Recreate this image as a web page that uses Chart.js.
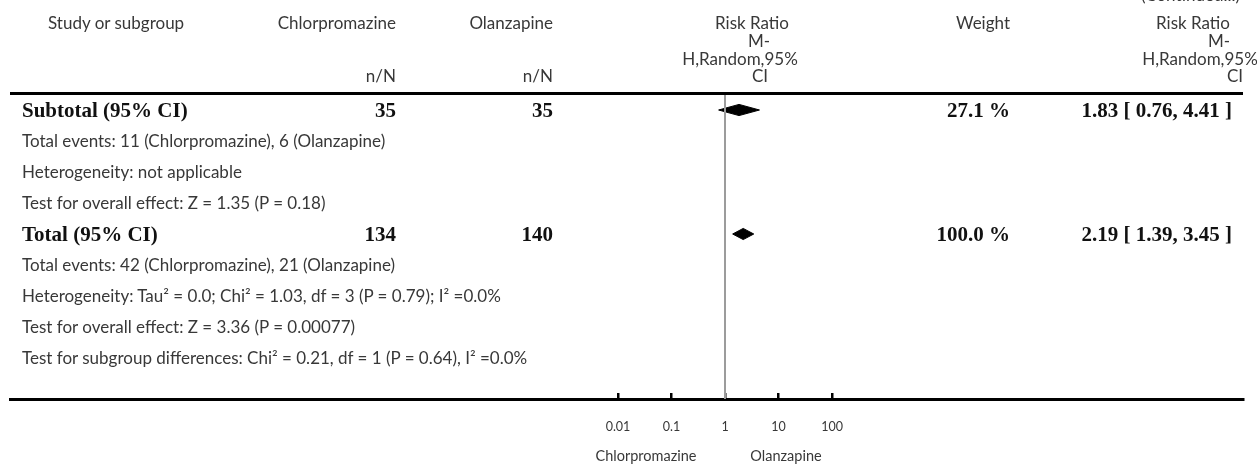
<!DOCTYPE html>
<html>
<head>
<meta charset="utf-8">
<script src="https://cdn.jsdelivr.net/npm/chart.js@4.4.1/dist/chart.umd.min.js"></script>
<style>
html, body { margin: 0; padding: 0; background: #fff; }
#wrap { position: relative; width: 1257px; height: 465px; overflow: hidden; font-family: Lato, "Open Sans", sans-serif; color: #383838; }
#chart { position: absolute; left: 0; top: 0; }
.t { position: absolute; white-space: nowrap; font-size: 17px; line-height: 20px; transform: translateY(-50%); }
.r { transform: translate(-100%, -50%); }
.c { transform: translate(-50%, -50%); }
.b { font-family: "Liberation Serif", "DejaVu Serif", serif; font-weight: bold; font-size: 21px; line-height: 24px; color: #111; }
.s { font-size: 14.5px; }
.hline { position: absolute; left: 10px; width: 1233px; height: 3px; background: #000; }
</style>
</head>
<body>
<div id="wrap">
  <canvas id="chart" width="1257" height="465"></canvas>
</div>
<script>
// summary rows of the forest plot
const rowLabels = ["Subtotal (95% CI)", "Total (95% CI)"];
const chlorTotals = [35, 134];
const olanTotals = [35, 140];
const weights = [27.1, 100.0];
const riskRatios = [1.83, 2.19];
const ciLower = [0.76, 1.39];
const ciUpper = [4.41, 3.45];
const summaryRows = [0, 4];

// text rows under the summaries
const noteRows = [1, 2, 3, 5, 6, 7, 8];
const noteTexts = [
    "Total events: 11 (Chlorpromazine), 6 (Olanzapine)",
    "Heterogeneity: not applicable",
    "Test for overall effect: Z = 1.35 (P = 0.18)",
    "Total events: 42 (Chlorpromazine), 21 (Olanzapine)",
    "Heterogeneity: Tau\u00b2 = 0.0; Chi\u00b2 = 1.03, df = 3 (P = 0.79); I\u00b2 =0.0%",
    "Test for overall effect: Z = 3.36 (P = 0.00077)",
    "Test for subgroup differences: Chi\u00b2 = 0.21, df = 1 (P = 0.64), I\u00b2 =0.0%"
];

// axis
const tickValues = [0.01, 0.1, 1, 10, 100];
const tickLabels = ["0.01", "0.1", "1", "10", "100"];
const sideLabels = ["Chlorpromazine", "Olanzapine"];

// layout
const ROW0 = 110, ROW_H = 31, TOP = 93, AXIS = 399;
const CENTER_X = 725, DECADE = 53.5, LEFT = 10, RIGHT = 1243;
const DIAMOND_H = 0.18;
const COL1 = 396, COL2 = 553, COL_W = 1010, COL_RR = 1232;

const wrap = document.getElementById("wrap");
function put(text, x, y, cls) {
    const d = document.createElement("div");
    d.className = "t " + (cls || "");
    d.style.left = x + "px";
    d.style.top = y + "px";
    d.textContent = text;
    wrap.appendChild(d);
}
const rowY = (r) => ROW0 + ROW_H * r;

// header
put("(Continued...)", 1240, -5, "r");
put("Study or subgroup", 48, 23);
put("Chlorpromazine", COL1, 23, "r");
put("Olanzapine", COL2, 23, "r");
put("n/N", COL1, 76, "r");
put("n/N", COL2, 76, "r");
const headLines = ["Risk Ratio", "M-", "H,Random,95%", "CI"];
const headY = [23, 41, 59, 76];
const midX = [752, 759, 740, 760];
const rightX = [1193, 1219, 1200, 1235];
headLines.forEach((s, i) => {
    put(s, midX[i], headY[i], "c");
    put(s, rightX[i], headY[i], "c");
});
put("Weight", COL_W, 23, "r");

const hl = document.createElement("div");
hl.className = "hline";
hl.style.top = (TOP - 1.5) + "px";
wrap.appendChild(hl);

// body
summaryRows.forEach((r, i) => {
    const y = rowY(r);
    put(rowLabels[i], 22, y, "b");
    put(String(chlorTotals[i]), COL1, y, "b r");
    put(String(olanTotals[i]), COL2, y, "b r");
    put(weights[i].toFixed(1) + " %", COL_W, y, "b r");
    put(riskRatios[i].toFixed(2) + " [ " + ciLower[i].toFixed(2) + ", " + ciUpper[i].toFixed(2) + " ]", COL_RR, y, "b r");
});
noteRows.forEach((r, i) => put(noteTexts[i], 22, rowY(r)));

put(sideLabels[0], 646, 456, "c s");
put(sideLabels[1], 786, 456, "c s");

// plot
const yMin = (TOP - ROW0) / ROW_H;
const yMax = (AXIS - ROW0) / ROW_H;
const xMin = Math.pow(10, (LEFT - CENTER_X) / DECADE);
const xMax = Math.pow(10, (RIGHT - CENTER_X) / DECADE);

const datasets = [{
    data: [{ x: 1, y: yMin }, { x: 1, y: yMax }],
    borderColor: "#9c9c9c",
    borderWidth: 2,
    pointRadius: 0,
    fill: false
}];
summaryRows.forEach((r, i) => {
    datasets.push({
        data: [{ x: ciLower[i], y: r }, { x: riskRatios[i], y: r - DIAMOND_H }, { x: ciUpper[i], y: r }],
        borderColor: "#000",
        borderWidth: 1,
        pointRadius: 0,
        fill: false
    });
    datasets.push({
        data: [{ x: ciLower[i], y: r }, { x: riskRatios[i], y: r + DIAMOND_H }, { x: ciUpper[i], y: r }],
        borderColor: "#000",
        backgroundColor: "#000",
        borderWidth: 1,
        pointRadius: 0,
        fill: "-1"
    });
});

new Chart(document.getElementById("chart"), {
    type: "line",
    data: { datasets: datasets },
    options: {
        responsive: false,
        animation: false,
        devicePixelRatio: 1,
        layout: { padding: { left: LEFT, right: 1257 - RIGHT, top: TOP, bottom: 0 } },
        plugins: { legend: { display: false }, tooltip: { enabled: false } },
        scales: {
            x: {
                type: "logarithmic",
                min: xMin,
                max: xMax,
                afterBuildTicks: (s) => { s.ticks = tickValues.map((v) => ({ value: v })); },
                afterFit: (s) => { s.height = 465 - AXIS; },
                ticks: {
                    autoSkip: false,
                    maxRotation: 0,
                    padding: 26,
                    color: "#383838",
                    font: { family: "Lato", size: 12.5 },
                    callback: (v) => {
                        const k = tickValues.indexOf(v);
                        return k < 0 ? "" : tickLabels[k];
                    }
                },
                grid: { display: true, drawOnChartArea: false, drawTicks: true, tickLength: -6, color: "#000", lineWidth: 2.5 },
                border: { display: true, color: "#000", width: 3 }
            },
            y: { type: "linear", min: yMin, max: yMax, reverse: true, display: false }
        }
    }
});
</script>
</body>
</html>
